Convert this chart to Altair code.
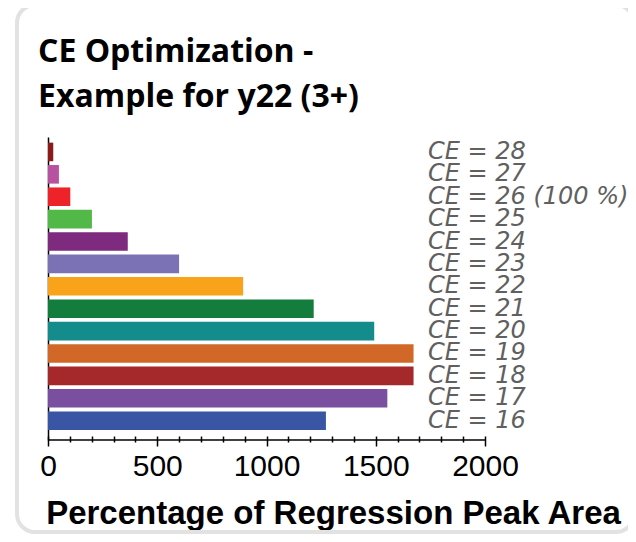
import altair as alt
import pandas as pd

CE = ["28", "27", "26", "25", "24", "23", "22", "21", "20", "19", "18", "17", "16"]
VALUES = [24, 50, 102, 201, 365, 600, 893, 1216, 1493, 1673, 1673, 1553, 1272]
LABELS = ["CE = 28", "CE = 27", "CE = 26 (100 %)", "CE = 25", "CE = 24", "CE = 23",
          "CE = 22", "CE = 21", "CE = 20", "CE = 19", "CE = 18", "CE = 17", "CE = 16"]
COLORS = ["#8b1a1a", "#b8519f", "#ee2229", "#52b848", "#7e2a7e", "#7a72b4", "#f9a31b",
          "#127d3c", "#148c8c", "#d16827", "#a5292b", "#7b4f9f", "#3b55a5"]
TICKS = list(range(0, 2001, 100))
TITLE_LINES = ["CE Optimization -", "Example for y22 (3+)"]
X_TITLE = "Percentage of Regression Peak Area"

df = pd.DataFrame({"ce": CE, "value": VALUES, "label": LABELS})

W, H = 437, 303

yscale = alt.Scale(domain=CE, paddingInner=0.17, paddingOuter=0.35, align=0.36)

bars = alt.Chart(df).mark_bar().encode(
    y=alt.Y("ce:N", scale=yscale, sort=CE,
            axis=alt.Axis(title=None, labels=False, ticks=False, domain=True,
                          domainColor="#000", domainWidth=1.5)),
    x=alt.X("value:Q", scale=alt.Scale(domain=[0, 2000], nice=False),
            axis=alt.Axis(values=TICKS, format="d", offset=-4, domain=False,
                          labelExpr="datum.value % 500 === 0 ? datum.label : ''",
                          labelFont="Liberation Sans", labelFontSize=30, labelColor="#000",
                          labelPadding=5, labelFlush=False,
                          tickColor="#000", tickWidth=1.5,
                          tickSize={"condition": {"test": "datum.value % 500 === 0", "value": 10}, "value": 6},
                          grid=False,
                          title=X_TITLE, titleFont="Liberation Sans", titleFontSize=33,
                          titleFontWeight="bold", titleColor="#000",
                          titleX=285, titleY=61, titleBaseline="top", titleAlign="center")),
    color=alt.Color("ce:N", scale=alt.Scale(domain=CE, range=COLORS), legend=None),
)

xline = alt.Chart(alt.Data(values=[{}])).mark_rule(color="#000", strokeWidth=1.5).encode(
    x=alt.value(0), x2=alt.value(W), y=alt.value(H)
)

labels = alt.Chart(df).mark_text(
    align="left", baseline="middle", font="DejaVu Sans", fontStyle="italic",
    fontSize=24, color="#606060"
).encode(
    y=alt.Y("ce:N", scale=yscale, sort=CE),
    x=alt.value(380),
    text="label:N",
)

title = alt.Chart(alt.Data(values=[{}])).mark_text(
    align="left", baseline="alphabetic", font="Open Sans", fontWeight="bold",
    fontSize=32, lineHeight=45, color="#000"
).encode(x=alt.value(-10), y=alt.value(-75), text=alt.value(TITLE_LINES))

frame = alt.Chart(alt.Data(values=[{}])).mark_rect(
    fillOpacity=0, stroke="#e2e2e2", strokeWidth=4, cornerRadius=18
).encode(x=alt.value(-31), x2=alt.value(586), y=alt.value(-132), y2=alt.value(395))

chart = alt.layer(frame, bars, xline, labels, title).properties(
    width=W, height=H,
    autosize=alt.AutoSizeParams(type="none"),
    padding={"left": 40, "top": 129, "right": 143, "bottom": 94},
).configure_view(stroke=None)

chart.save("out.html", embed_options={"renderer": "svg", "actions": False})
